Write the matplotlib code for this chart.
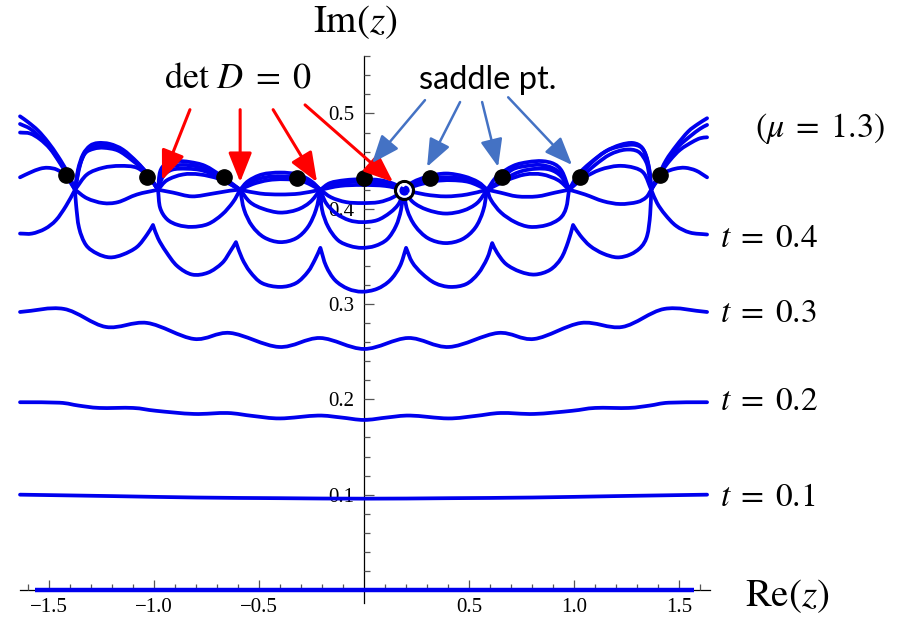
import numpy as np
import matplotlib
matplotlib.use("Agg")
import matplotlib.pyplot as plt
from matplotlib.path import Path
from matplotlib.patches import PathPatch

# ---------------- data ----------------
# det D = 0 points (curves of the family meet there)
node_x = [-1.376, -0.981, -0.590, -0.208, 0.188, 0.586, 0.976, 1.367]
node_y = 0.420
# cusps of the lowest curve of the family
cusp_x = [-1.005, -0.610, -0.208, 0.200, 0.610, 0.995]
cusp_y = [0.383, 0.365, 0.359, 0.359, 0.364, 0.383]
# saddle points
saddle_x = [-1.419, -1.033, -0.667, -0.319, 0.0, 0.314, 0.657, 1.029, 1.410]
saddle_y = [0.435, 0.433, 0.433, 0.432, 0.432, 0.432, 0.433, 0.433, 0.435]
# highlighted det D = 0 point
open_x = [0.188]
open_y = [0.420]

c1_x = [-1.638, -1.600, -1.552, -1.505, -1.457, -1.414, -1.376,
        -1.362, -1.338, -1.305, -1.267, -1.210, -1.148, -1.081, -1.029, -0.981,
        -0.971, -0.943, -0.890, -0.829, -0.757, -0.676, -0.590,
        -0.552, -0.486, -0.400, -0.314, -0.252, -0.208,
        -0.162, -0.090, -0.010, 0.076, 0.143, 0.188,
        0.233, 0.305, 0.390, 0.476, 0.543, 0.586,
        0.633, 0.710, 0.781, 0.848, 0.905, 0.943, 0.976,
        1.019, 1.076, 1.148, 1.219, 1.281, 1.324, 1.348, 1.362, 1.367,
        1.400, 1.438, 1.486, 1.543, 1.590, 1.633]
c1_y = [0.497, 0.491, 0.482, 0.470, 0.455, 0.439, 0.420,
        0.441, 0.457, 0.466, 0.469, 0.468, 0.462, 0.449, 0.436, 0.420,
        0.439, 0.447, 0.450, 0.449, 0.445, 0.434, 0.420,
        0.429, 0.436, 0.438, 0.436, 0.429, 0.420,
        0.427, 0.430, 0.431, 0.430, 0.426, 0.420,
        0.428, 0.434, 0.437, 0.434, 0.428, 0.420,
        0.434, 0.445, 0.449, 0.450, 0.447, 0.439, 0.420,
        0.436, 0.448, 0.460, 0.467, 0.469, 0.464, 0.451, 0.436, 0.420,
        0.434, 0.451, 0.466, 0.481, 0.489, 0.495]

c2_x = [-1.638, -1.590, -1.543, -1.495, -1.448, -1.410, -1.376,
        -1.357, -1.329, -1.286, -1.238, -1.171, -1.105, -1.038, -0.981,
        -0.962, -0.924, -0.862, -0.790, -0.710, -0.638, -0.590,
        -0.543, -0.471, -0.390, -0.305, -0.248, -0.208,
        -0.148, -0.067, 0.005, 0.086, 0.148, 0.188,
        0.243, 0.319, 0.400, 0.486, 0.548, 0.586,
        0.633, 0.705, 0.776, 0.838, 0.895, 0.938, 0.976,
        1.029, 1.100, 1.171, 1.243, 1.305, 1.343, 1.357, 1.367,
        1.405, 1.448, 1.495, 1.552, 1.600, 1.633]
c2_y = [0.489, 0.484, 0.475, 0.464, 0.449, 0.436, 0.420,
        0.443, 0.458, 0.463, 0.464, 0.461, 0.451, 0.438, 0.420,
        0.437, 0.444, 0.446, 0.444, 0.437, 0.427, 0.420,
        0.428, 0.433, 0.434, 0.432, 0.427, 0.420,
        0.425, 0.428, 0.428, 0.427, 0.424, 0.420,
        0.427, 0.432, 0.433, 0.431, 0.426, 0.420,
        0.427, 0.441, 0.445, 0.446, 0.443, 0.436, 0.420,
        0.432, 0.446, 0.457, 0.462, 0.460, 0.449, 0.436, 0.420,
        0.436, 0.451, 0.465, 0.476, 0.484, 0.488]

c3_x = [-1.638, -1.590, -1.543, -1.495, -1.448, -1.410, -1.376,
        -1.319, -1.243, -1.162, -1.081, -1.019, -0.981,
        -0.938, -0.862, -0.781, -0.686, -0.590,
        -0.529, -0.457, -0.381, -0.295, -0.208,
        -0.114, -0.010, 0.100, 0.188,
        0.257, 0.338, 0.414, 0.500, 0.586,
        0.681, 0.767, 0.848, 0.924, 0.976,
        1.043, 1.124, 1.210, 1.286, 1.333, 1.367,
        1.410, 1.457, 1.505, 1.562, 1.600, 1.633]
c3_y = [0.480, 0.479, 0.473, 0.463, 0.448, 0.434, 0.420,
        0.436, 0.443, 0.445, 0.443, 0.432, 0.420,
        0.430, 0.436, 0.436, 0.431, 0.420,
        0.426, 0.430, 0.431, 0.429, 0.420,
        0.424, 0.425, 0.424, 0.420,
        0.425, 0.429, 0.430, 0.428, 0.420,
        0.430, 0.436, 0.436, 0.430, 0.420,
        0.432, 0.441, 0.445, 0.443, 0.437, 0.420,
        0.437, 0.451, 0.462, 0.470, 0.474, 0.475]

c4_x = [-1.638, -1.590, -1.543, -1.505, -1.462, -1.419, -1.376,
        -1.319, -1.243, -1.171, -1.081, -0.981,
        -0.910, -0.819, -0.719, -0.638, -0.590,
        -0.495, -0.400, -0.305, -0.208,
        -0.157, -0.086, -0.010, 0.071, 0.138, 0.188,
        0.290, 0.390, 0.490, 0.586,
        0.648, 0.729, 0.824, 0.910, 0.976,
        1.052, 1.138, 1.219, 1.300, 1.343, 1.367,
        1.395, 1.433, 1.481, 1.529, 1.581, 1.633]
c4_y = [0.433, 0.438, 0.442, 0.443, 0.441, 0.434, 0.420,
        0.411, 0.406, 0.407, 0.415, 0.420,
        0.417, 0.413, 0.416, 0.419, 0.420,
        0.416, 0.415, 0.416, 0.420,
        0.412, 0.407, 0.406, 0.407, 0.412, 0.420,
        0.415, 0.413, 0.415, 0.420,
        0.417, 0.413, 0.413, 0.417, 0.420,
        0.415, 0.408, 0.405, 0.407, 0.412, 0.420,
        0.429, 0.438, 0.442, 0.443, 0.440, 0.433]

c5_x = [-1.638, -1.581, -1.519, -1.467, -1.419, -1.376,
        -1.352, -1.324, -1.281, -1.233, -1.162, -1.090, -1.029, -0.981,
        -0.971, -0.938, -0.886, -0.819, -0.743, -0.676, -0.624, -0.590,
        -0.543, -0.481, -0.400, -0.319, -0.257, -0.208,
        -0.181, -0.133, -0.071, -0.010, 0.062, 0.124, 0.167, 0.188,
        0.233, 0.300, 0.386, 0.471, 0.538, 0.586,
        0.605, 0.652, 0.719, 0.790, 0.871, 0.933, 0.962, 0.976,
        1.024, 1.086, 1.157, 1.229, 1.290, 1.329, 1.352, 1.367,
        1.395, 1.433, 1.486, 1.552, 1.633]
c5_y = [0.374, 0.374, 0.379, 0.388, 0.403, 0.420,
        0.446, 0.460, 0.465, 0.466, 0.462, 0.450, 0.436, 0.420,
        0.401, 0.389, 0.383, 0.381, 0.384, 0.394, 0.407, 0.420,
        0.407, 0.400, 0.396, 0.399, 0.407, 0.420,
        0.406, 0.395, 0.388, 0.386, 0.388, 0.396, 0.406, 0.420,
        0.407, 0.399, 0.395, 0.398, 0.406, 0.420,
        0.409, 0.396, 0.386, 0.381, 0.383, 0.390, 0.401, 0.420,
        0.434, 0.449, 0.461, 0.466, 0.467, 0.462, 0.448, 0.420,
        0.406, 0.394, 0.382, 0.375, 0.373]

c6_x = [-0.981, -0.957, -0.914, -0.843, -0.767, -0.686, -0.590,
        -0.571, -0.533, -0.476, -0.400, -0.324, -0.267, -0.229, -0.208,
        -0.200, -0.171, -0.124, -0.067, -0.010, 0.052, 0.110, 0.152, 0.176, 0.188,
        0.205, 0.243, 0.305, 0.386, 0.467, 0.529, 0.567, 0.586,
        0.657, 0.743, 0.819, 0.886, 0.938, 0.976]
c6_y = [0.420, 0.434, 0.441, 0.442, 0.440, 0.432, 0.420,
        0.399, 0.382, 0.370, 0.365, 0.369, 0.381, 0.399, 0.420,
        0.399, 0.381, 0.367, 0.361, 0.359, 0.361, 0.368, 0.382, 0.399, 0.420,
        0.399, 0.382, 0.369, 0.364, 0.368, 0.380, 0.398, 0.420,
        0.430, 0.439, 0.442, 0.441, 0.434, 0.420]

ck_x = [-1.376,
        -1.371, -1.357, -1.324, -1.271, -1.210, -1.148, -1.081, -1.033, -1.005,
        -0.981, -0.943, -0.890, -0.819, -0.743, -0.676, -0.638, -0.610,
        -0.581, -0.543, -0.486, -0.400, -0.324, -0.267, -0.233, -0.208,
        -0.181, -0.138, -0.076, -0.010, 0.062, 0.124, 0.171, 0.200,
        0.229, 0.276, 0.338, 0.410, 0.486, 0.543, 0.586, 0.610,
        0.633, 0.676, 0.743, 0.814, 0.886, 0.938, 0.971, 0.995,
        1.029, 1.076, 1.138, 1.205, 1.267, 1.319, 1.348, 1.362, 1.367]
ck_y = [0.420,
        0.404, 0.380, 0.362, 0.353, 0.349, 0.352, 0.360, 0.373, 0.383,
        0.369, 0.355, 0.340, 0.331, 0.333, 0.343, 0.355, 0.365,
        0.348, 0.334, 0.322, 0.318, 0.322, 0.334, 0.347, 0.359,
        0.340, 0.325, 0.316, 0.313, 0.316, 0.325, 0.340, 0.359,
        0.344, 0.332, 0.322, 0.318, 0.321, 0.332, 0.348, 0.364,
        0.354, 0.342, 0.334, 0.331, 0.336, 0.348, 0.365, 0.383,
        0.372, 0.361, 0.353, 0.349, 0.352, 0.360, 0.372, 0.394, 0.420]

t3_x = [-1.638, -1.429, -1.229, -1.033, -0.810, -0.638, -0.405, -0.210, 0.0,
        0.210, 0.405, 0.638, 0.810, 1.033, 1.229, 1.429, 1.633]
t3_y = [0.2917, 0.2949, 0.2760, 0.2802, 0.2634, 0.2697, 0.2550, 0.2644, 0.2529,
        0.2644, 0.2550, 0.2697, 0.2634, 0.2802, 0.2760, 0.2949, 0.2917]

t2_x = [-1.638, -1.45, -1.36, -1.26, -1.10, -0.99, -0.81, -0.65, -0.53, -0.40, -0.22, -0.11, 0.0,
        0.11, 0.22, 0.40, 0.53, 0.65, 0.81, 0.99, 1.10, 1.26, 1.36, 1.45, 1.633]
t2_y = [0.197, 0.1965, 0.1935, 0.191, 0.191, 0.188, 0.1847, 0.1857, 0.1826, 0.180, 0.183, 0.181, 0.1784,
        0.181, 0.183, 0.180, 0.1826, 0.1857, 0.1847, 0.188, 0.191, 0.191, 0.1935, 0.1965, 0.197]

t1_x = [-1.638, -1.2, -0.8, -0.4, 0.0, 0.4, 0.8, 1.2, 1.633]
t1_y = [0.100, 0.0985, 0.097, 0.0963, 0.0958, 0.0963, 0.097, 0.0985, 0.100]

t0_x = [-1.567, 1.570]
t0_y = [0.0, 0.0]

t_labels = ["$t\\;=\\;0.4$", "$t\\;=\\;0.3$", "$t\\;=\\;0.2$", "$t\\;=\\;0.1$"]
x_major = [-1.5, -1.0, -0.5, 0.5, 1.0, 1.5]
x_major_labels = ["\u22121.5", "\u22121.0", "\u22120.5", "0.5", "1.0", "1.5"]
y_major = [0.1, 0.2, 0.3, 0.4, 0.5]
y_major_labels = ["0.1", "0.2", "0.3", "0.4", "0.5"]

# red arrows: tail -> det D = 0 points ; blue arrows: tail -> saddle points
red_tail = [(-0.829, 0.504), (-0.590, 0.504), (-0.433, 0.504), (-0.281, 0.509)]
red_tip = [(-0.962, 0.430), (-0.590, 0.428), (-0.224, 0.428), (0.138, 0.428)]
blue_tail = [(0.290, 0.514), (0.457, 0.512), (0.562, 0.512), (0.686, 0.517)]
blue_tip = [(0.038, 0.448), (0.300, 0.444), (0.638, 0.444), (0.990, 0.446)]

# ---------------- drawing ----------------
plt.rcParams['mathtext.fontset'] = 'stix'
W, H = 910, 618
fig = plt.figure(figsize=(W / 100, H / 100), dpi=100)
ax = fig.add_axes([19.6 / W, 1 - 603.3 / H, 690 / W, 547 / H])
ax.set_xlim(-1.64, 1.645)
ax.set_ylim(-0.014, 0.56)

BLUE = '#0000EE'

corner_pts = [(x, node_y) for x in node_x] + list(zip(cusp_x, cusp_y))


def smooth_path(xs, ys, corners):
    pts = np.column_stack([np.asarray(xs, float), np.asarray(ys, float)])
    n = len(pts)
    is_c = np.zeros(n, bool)
    for cx, cy in corners:
        is_c |= (np.abs(pts[:, 0] - cx) < 1e-6) & (np.abs(pts[:, 1] - cy) < 1e-6)
    is_c[0] = is_c[-1] = True
    verts = [pts[0]]
    codes = [Path.MOVETO]
    br = np.flatnonzero(is_c)
    for a, b in zip(br[:-1], br[1:]):
        seg = pts[a:b + 1]
        m = len(seg)
        for i in range(m - 1):
            p0, p1 = seg[i], seg[i + 1]
            d0 = (p1 - seg[i - 1]) / 6 if i > 0 else (p1 - p0) / 3
            d1 = (seg[i + 2] - p0) / 6 if i + 2 < m else (p1 - p0) / 3
            verts += [p0 + d0, p1 - d1, p1]
            codes += [Path.CURVE4] * 3
    return Path(verts, codes)


def draw_curve(xs, ys, lw=2.7, corners=()):
    patch = PathPatch(smooth_path(xs, ys, corners), facecolor='none',
                      edgecolor=BLUE, lw=lw, zorder=3, clip_on=False)
    patch.set_capstyle('round')
    patch.set_joinstyle('round')
    ax.add_patch(patch)


for xs, ys in [(c1_x, c1_y), (c2_x, c2_y), (c3_x, c3_y), (c4_x, c4_y),
               (c5_x, c5_y), (c6_x, c6_y), (ck_x, ck_y)]:
    draw_curve(xs, ys, corners=corner_pts)
for xs, ys in [(t3_x, t3_y), (t2_x, t2_y), (t1_x, t1_y)]:
    draw_curve(xs, ys)
ax.plot(t0_x, t0_y, color=BLUE, lw=3.2, zorder=3, solid_capstyle='butt')

ax.plot(saddle_x, saddle_y, 'o', ms=11, color='black', zorder=6)
ax.plot(open_x, open_y, 'o', ms=13, mfc='none', mec='black', mew=2.2, zorder=7)
ax.plot(open_x, open_y, 'o', ms=9, mfc='none', mec='white', mew=1.6, zorder=7)

for (tx, ty), (hx, hy) in zip(red_tail, red_tip):
    ax.annotate('', xy=(hx, hy), xytext=(tx, ty), annotation_clip=False,
                arrowprops=dict(arrowstyle='-|>,head_length=0.9,head_width=0.36',
                                mutation_scale=20, color='#FF0000', lw=2.2,
                                shrinkA=0, shrinkB=0), zorder=8)
for (tx, ty), (hx, hy) in zip(blue_tail, blue_tip):
    ax.annotate('', xy=(hx, hy), xytext=(tx, ty), annotation_clip=False,
                arrowprops=dict(arrowstyle='-|>,head_length=0.85,head_width=0.34',
                                mutation_scale=20, color='#4472C4', lw=1.8,
                                shrinkA=0, shrinkB=0), zorder=8)

# axes styling
for s in ['top', 'right']:
    ax.spines[s].set_visible(False)
ax.spines['left'].set_position(('data', 0))
ax.spines['bottom'].set_position(('data', 0))
for s in ['left', 'bottom']:
    ax.spines[s].set_linewidth(0.9)
    ax.spines[s].set_color('black')
    ax.spines[s].set_zorder(1)

ax.set_xticks(x_major)
ax.set_xticklabels(x_major_labels)
ax.set_xticks([v / 10 for v in range(-16, 17) if v % 5 != 0], minor=True)
ax.set_yticks(y_major)
ax.set_yticklabels(y_major_labels)
ax.set_yticks([v / 100 for v in range(2, 57, 2) if v % 10 != 0], minor=True)
ax.tick_params(axis='x', which='major', direction='in', length=7, width=0.9,
               color='#555555', pad=6, labelsize=15,
               labelfontfamily='Liberation Serif')
ax.tick_params(axis='x', which='minor', direction='in', length=4.5, width=0.9,
               color='#555555')
ax.tick_params(axis='y', which='major', direction='in', length=7, width=0.9,
               color='#555555', pad=7, labelsize=15,
               labelfontfamily='Liberation Serif')
ax.tick_params(axis='y', which='minor', direction='in', length=4.5, width=0.9,
               color='#555555')

# texts
fig.text(355 / W, 1 - 22 / H, r'$\mathrm{Im}(z)$', fontsize=28, ha='center', va='center')
fig.text(787 / W, 1 - 596 / H, r'$\mathrm{Re}(z)$', fontsize=28, ha='center', va='center')
fig.text(238 / W, 1 - 77 / H, r'$\mathrm{det}\ D\;=\;0$', fontsize=26, ha='center', va='center')
fig.text(488 / W, 1 - 80 / H, 'saddle pt.', family='Lato', fontsize=23.5,
         ha='center', va='center')
fig.text(820 / W, 1 - 129 / H, r'$(\mu\;=\;1.3)$', fontsize=24.5, ha='center', va='center')
for lab, yy in zip(t_labels, [237, 312, 401, 497]):
    fig.text(720 / W, 1 - yy / H, lab, fontsize=24, ha='left', va='center')

fig.savefig('out.png', dpi=100)
